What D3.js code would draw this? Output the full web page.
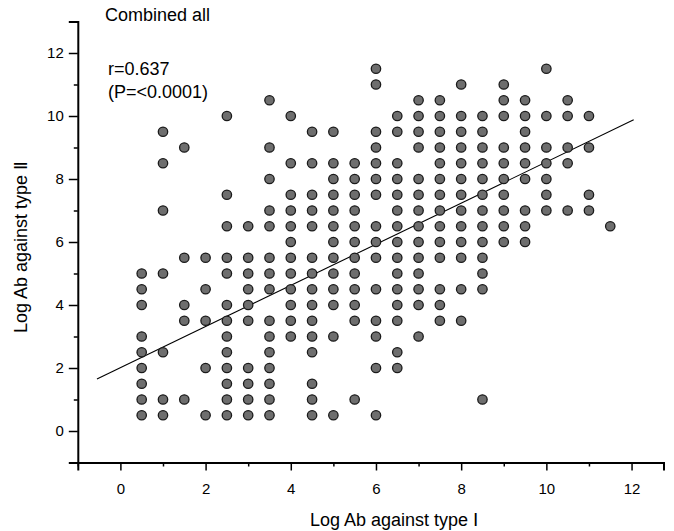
<!DOCTYPE html>
<html lang="en">
<head>
<meta charset="utf-8">
<title>Combined all</title>
<script src="https://cdn.jsdelivr.net/npm/d3@7/dist/d3.min.js"></script>
<style>
  body { margin: 0; background: #fff; }
  text { font-family: "Liberation Sans", Arial, sans-serif; }
</style>
</head>
<body>
<script>
// x columns (Log Ab against type I), step 0.5
var colX = [0.5, 1, 1.5, 2, 2.5, 3, 3.5, 4, 4.5, 5, 5.5, 6, 6.5, 7, 7.5, 8, 8.5, 9, 9.5, 10, 10.5, 11, 11.5]
// y values found in each column (Log Ab against type II)
var colY = [
  [0.5, 1, 1.5, 2, 2.5, 3, 4, 4.5, 5],
  [0.5, 1, 2.5, 5, 7, 8.5, 9.5],
  [1, 3.5, 4, 5.5, 9],
  [0.5, 2, 3.5, 4.5, 5.5],
  [0.5, 1, 1.5, 2, 2.5, 3, 3.5, 4, 5, 5.5, 6.5, 7.5, 10],
  [0.5, 1, 1.5, 2, 3.5, 4, 4.5, 5, 5.5, 6.5],
  [0.5, 1, 1.5, 2, 2.5, 3, 3.5, 4.5, 5, 5.5, 6.5, 7, 8, 9, 10.5],
  [3, 3.5, 4, 4.5, 5, 5.5, 6, 6.5, 7, 7.5, 8.5, 10],
  [0.5, 1, 1.5, 2.5, 3, 3.5, 4, 4.5, 5, 5.5, 6.5, 7, 7.5, 8.5, 9.5],
  [0.5, 3, 4, 4.5, 5, 5.5, 6, 6.5, 7, 7.5, 8, 8.5, 9.5],
  [1, 3.5, 4, 4.5, 5, 5.5, 6, 6.5, 7, 7.5, 8, 8.5],
  [0.5, 2, 3, 3.5, 4.5, 5.5, 6, 6.5, 7.5, 8, 8.5, 9, 9.5, 11, 11.5],
  [2, 2.5, 3.5, 4, 4.5, 5, 5.5, 6, 6.5, 7, 7.5, 8, 8.5, 9.5, 10],
  [3, 4, 4.5, 5, 5.5, 6, 6.5, 7, 7.5, 8, 9, 9.5, 10, 10.5],
  [3.5, 4, 4.5, 5.5, 6, 6.5, 7, 7.5, 8, 8.5, 9, 9.5, 10, 10.5],
  [3.5, 4.5, 5.5, 6, 6.5, 7, 7.5, 8, 8.5, 9, 9.5, 10, 11],
  [1, 4.5, 5, 5.5, 6, 6.5, 7, 7.5, 8, 8.5, 9, 9.5, 10],
  [6, 6.5, 7, 7.5, 8, 8.5, 9, 10, 10.5, 11],
  [6, 6.5, 7, 8, 8.5, 9, 9.5, 10, 10.5],
  [7, 7.5, 8, 8.5, 9, 10, 11.5],
  [7, 8.5, 9, 10, 10.5],
  [7, 7.5, 9, 10],
  [6.5]
]
// regression line end points
var lineX = [-0.55, 12.05]
var lineY = [1.65, 9.88]

var majorX = [0, 2, 4, 6, 8, 10, 12]
var minorX = [-1, 1, 3, 5, 7, 9, 11]
var majorY = [0, 2, 4, 6, 8, 10, 12]
var minorY = [1, 3, 5, 7, 9, 11, 13]

var points = []
colX.forEach(function(x, i) {
  colY[i].forEach(function(y) { points.push([x, y]) })
})

var svg = d3.select("body").append("svg").attr("width", 674).attr("height", 531)

var x = d3.scaleLinear().domain([-1, 12.75]).range([77.8, 663.5])
var y = d3.scaleLinear().domain([-1, 13]).range([462.5, 21.5])

//////////////////// axes ////////////////////
svg.append("g").attr("transform", "translate(0," + y(-1) + ")")
  .call(d3.axisBottom(x).tickValues(majorX).tickSize(8).tickPadding(13).tickFormat(d3.format("d")))
svg.append("g").attr("transform", "translate(0," + y(-1) + ")")
  .call(d3.axisBottom(x).tickValues(minorX).tickSize(4).tickFormat(""))
  .select(".domain").remove()

svg.append("g").attr("transform", "translate(" + x(-1) + ",0)")
  .call(d3.axisLeft(y).tickValues(majorY).tickSize(9).tickPadding(5).tickFormat(d3.format("d")))
svg.append("g").attr("transform", "translate(" + x(-1) + ",0)")
  .call(d3.axisLeft(y).tickValues(minorY).tickSize(4).tickFormat(""))
  .select(".domain").remove()

svg.selectAll(".domain").attr("stroke", "#000").attr("stroke-width", 2)
svg.selectAll(".tick line").attr("stroke", "#000").attr("stroke-width", 1.5)
svg.selectAll(".tick text").attr("font-size", 15).attr("fill", "#000")
  .attr("font-family", "'Liberation Sans', Arial, sans-serif")

//////////////////// regression line ////////////////////
svg.append("line")
  .attr("x1", x(lineX[0])).attr("y1", y(lineY[0]))
  .attr("x2", x(lineX[1])).attr("y2", y(lineY[1]))
  .attr("stroke", "#000").attr("stroke-width", 1.1)

//////////////////// points ////////////////////
svg.append("g").selectAll("circle").data(points).enter().append("circle")
  .attr("cx", function(d) { return x(d[0]) })
  .attr("cy", function(d) { return y(d[1]) })
  .attr("r", 4.7)
  .attr("fill", "#6e6e6e")
  .attr("stroke", "#1a1a1a")
  .attr("stroke-width", 1.3)

//////////////////// labels ////////////////////
svg.append("text").attr("x", 105).attr("y", 21).attr("font-size", 18).text("Combined all")
svg.append("text").attr("x", 108).attr("y", 75).attr("font-size", 18).text("r=0.637")
svg.append("text").attr("x", 108).attr("y", 98).attr("font-size", 18).text("(P=<0.0001)")

svg.append("text").attr("x", 394).attr("y", 526).attr("text-anchor", "middle")
  .attr("font-size", 18).text("Log Ab against type \u2160")
svg.append("text").attr("transform", "translate(27,247) rotate(-90)").attr("text-anchor", "middle")
  .attr("font-size", 18).text("Log Ab against type \u2161")
</script>
</body>
</html>
